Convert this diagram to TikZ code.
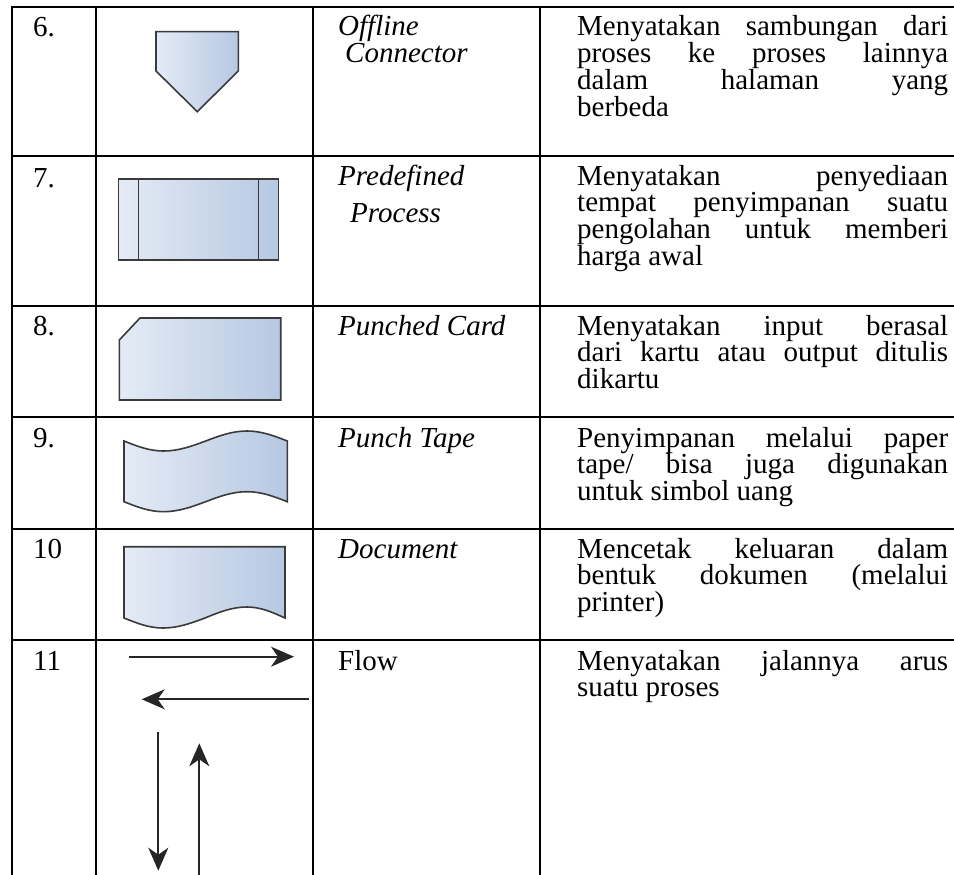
\documentclass[tikz,border=0pt]{standalone}
\usepackage{fontspec}
\setmainfont{Liberation Serif}
\usetikzlibrary{arrows.meta}

\definecolor{symlight}{HTML}{E4EBF5}
\definecolor{symdark}{HTML}{B6C8E2}
\definecolor{symedge}{HTML}{3A3A3A}

\newcommand{\jl}[1]{\makebox[371pt][s]{#1}}
\newcommand{\desc}[1]{\parbox[t]{371pt}{#1}}
\AtBeginDocument{\setlength{\lineskiplimit}{-50pt}}

\begin{document}
\begin{tikzpicture}[x=1pt,y=-1pt]
\tikzset{
  grid/.style={line width=2.2pt,line cap=rect},
  txt/.style={anchor=base west,inner sep=0pt,
    font={\fontsize{29}{26.7}\selectfont}},
  sym/.style={draw=symedge,line width=1.6pt,left color=symlight,right color=symdark},
  symline/.style={draw=symedge,line width=1.6pt},
  flow/.style={draw=black!85,line width=1.8pt,-{Stealth[length=23pt,width=20pt,inset=7pt]}}
}
\useasboundingbox (0,0) rectangle (954,875);

\draw[grid] (12.3,7.3) -- (954,7.3);
\foreach \y in {155.7,305.7,416.7,529,640}
  \draw[grid] (12.3,\y) -- (954,\y);
\foreach \x in {12.3,96,313,540}
  \draw[grid] (\x,7.3) -- (\x,875);

\node[txt] (n6) at (33,37) {6.};
\node[txt] (n7) at (33,187) {7.};
\node[txt] (n8) at (33,335) {8.};
\node[txt] (n9) at (33,447) {9.};
\node[txt] (n10) at (33,558) {10};
\node[txt] (n11) at (33,670) {11};

\node[txt] (nm6) at (338,36) {\parbox[t]{200pt}{\itshape Offline\\\hspace*{7pt}Connector}};
\node[txt] (nm7) at (338,185) {\parbox[t]{200pt}{\itshape Predefined\\[11pt]\hspace*{12pt}Process}};
\node[txt] (nm8) at (338,335) {\itshape Punched Card};
\node[txt] (nm9) at (338,447) {\itshape Punch Tape};
\node[txt] (nm10) at (338,558) {\itshape Document};
\node[txt] (nm11) at (338,670) {Flow};

\node[txt] (d6) at (577,36) {\desc{\jl{Menyatakan sambungan dari}\\\jl{proses ke proses lainnya}\\\jl{dalam halaman yang}\\berbeda}};
\node[txt] (d7) at (577,185) {\desc{\jl{Menyatakan penyediaan}\\\jl{tempat penyimpanan suatu}\\\jl{pengolahan untuk memberi}\\harga awal}};
\node[txt] (d8) at (577,335) {\desc{\jl{Menyatakan input berasal}\\\jl{dari kartu atau output ditulis}\\dikartu}};
\node[txt] (d9) at (577,447) {\desc{\jl{Penyimpanan melalui paper}\\\jl{tape/ bisa juga digunakan}\\untuk simbol uang}};
\node[txt] (d10) at (577,558) {\desc{\jl{Mencetak keluaran dalam}\\\jl{bentuk dokumen (melalui}\\printer)}};
\node[txt] (d11) at (577,670) {\desc{\jl{Menyatakan jalannya arus}\\suatu proses}};

\path[sym] (156,31.7) -- (238.3,31.7) -- (238.3,71) -- (197.3,111.7) -- (156,71) -- cycle;
\path[sym] (118.3,179) rectangle (278.3,260);
\draw[symline] (138.3,179) -- (138.3,260) (258.3,179) -- (258.3,260);
\path[sym] (140,318) -- (280.7,318) -- (280.7,400) -- (119.3,400) -- (119.3,340) -- cycle;
\path[sym] (124,441) sin (163.4,451) cos (205.7,441) sin (247,431) cos (287.3,441)
  -- (287.3,501.7) sin (247,491.7) cos (205.7,501.7) sin (163.4,511.7) cos (124,501.7) -- cycle;
\path[sym] (124,546.7) -- (285,546.7) -- (285,618) sin (247,607) cos (205,618)
  sin (163,628) cos (124,618) -- cycle;

\coordinate (f1a) at (129.3,656.7);
\coordinate (f1b) at (294,656.7);
\coordinate (f2a) at (309,699.3);
\coordinate (f2b) at (141.7,699.3);
\coordinate (f3a) at (158.3,732.3);
\coordinate (f3b) at (158.3,870.7);
\coordinate (f4a) at (199.3,875);
\coordinate (f4b) at (199.3,743.3);
\draw[flow] (f1a) -- (f1b);
\draw[flow] (f2a) -- (f2b);
\draw[flow] (f3a) -- (f3b);
\draw[flow] (f4a) -- (f4b);
\end{tikzpicture}
\end{document}
